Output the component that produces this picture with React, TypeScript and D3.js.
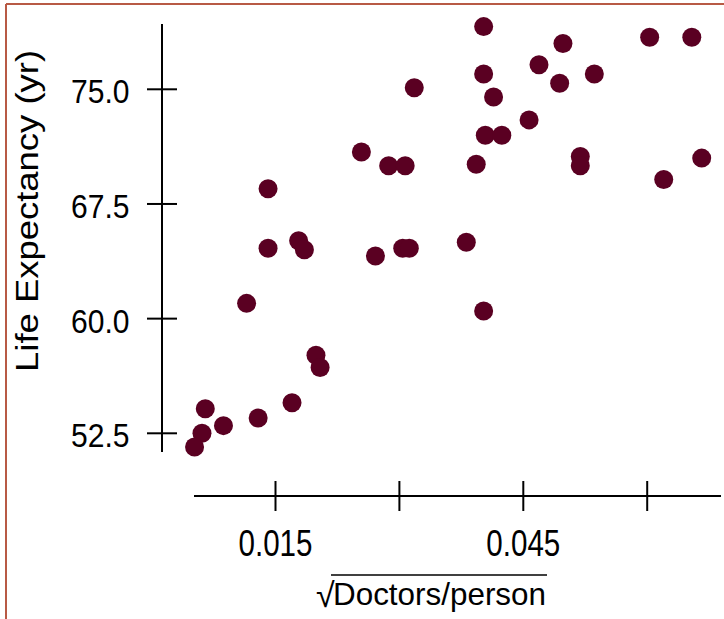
import React from 'react';
import * as d3 from 'd3';

// sqrt(doctors per person) for each country, and life expectancy in years
const sqrtDoctors = [
  0.0318, 0.0254, 0.0287, 0.0307, 0.0141, 0.0141, 0.0178, 0.0185, 0.0271, 0.0304,
  0.0312, 0.0115, 0.0199, 0.0204, 0.0170, 0.0129, 0.0065, 0.0087, 0.0061, 0.0052,
  0.0402, 0.0498, 0.0603, 0.0654, 0.0469, 0.0536, 0.0494, 0.0402, 0.0414, 0.0457,
  0.0404, 0.0424, 0.0393, 0.0519, 0.0519, 0.0620, 0.0666, 0.0381, 0.0402,
];
const lifeExpectancy = [
  75.1, 70.9, 70.0, 70.0, 68.5, 64.6, 65.1, 64.5, 64.1, 64.6,
  64.6, 61.0, 57.6, 56.8, 54.5, 53.5, 54.1, 53.0, 52.5, 51.6,
  79.1, 78.0, 78.4, 78.4, 76.6, 76.0, 75.4, 76.0, 74.5, 73.0,
  72.0, 72.0, 70.1, 70.6, 70.0, 69.1, 70.5, 65.0, 60.5,
];

const xTicks = [0.015, 0.03, 0.045, 0.06];
const xTickLabels = ['0.015', '', '0.045', ''];
const yTicks = [52.5, 60, 67.5, 75];

const W = 724;
const H = 619;
const FONT = '"Liberation Sans", Arial, Helvetica, sans-serif';
const DOT = '#5a0022';
const FRAME = '#b85a45';

export default function App() {
  const x = d3.scaleLinear().domain([0.015, 0.045]).range([275.5, 523.3]);
  const y = d3.scaleLinear().domain([52.5, 75]).range([433.3, 89.3]);
  const points = d3.zip(sqrtDoctors, lifeExpectancy);

  const xAxisY = 496;
  const yAxisX = 162;

  return (
    <svg width={W} height={H} style={{position: 'absolute', left: 0, top: 0, background: '#fff'}}>
      {/* frame */}
      <line x1={6} x2={W} y1={4} y2={4} stroke={FRAME} strokeWidth={2} />
      <line x1={6} x2={6} y1={4} y2={H} stroke={FRAME} strokeWidth={2} />

      {/* y axis */}
      <line x1={yAxisX} x2={yAxisX} y1={24} y2={452} stroke="#000" strokeWidth={2} />
      {yTicks.map((t) => (
        <g key={t}>
          <line x1={yAxisX - 15} x2={yAxisX + 15} y1={y(t)} y2={y(t)} stroke="#000" strokeWidth={2} />
          <text x={129.5} y={y(t) + 14} textAnchor="end" fontFamily={FONT} fontSize={34}
            textLength={58.5} lengthAdjust="spacingAndGlyphs">{t.toFixed(1)}</text>
        </g>
      ))}
      <text transform="translate(38,211) rotate(-90)" textAnchor="middle" fontFamily={FONT}
        fontSize={32} textLength={322} lengthAdjust="spacingAndGlyphs">Life Expectancy (yr)</text>

      {/* x axis */}
      <line x1={194} x2={721} y1={xAxisY} y2={xAxisY} stroke="#000" strokeWidth={2} />
      {xTicks.map((t, i) => (
        <g key={t}>
          <line x1={x(t)} x2={x(t)} y1={xAxisY - 15} y2={xAxisY + 15} stroke="#000" strokeWidth={2} />
          {xTickLabels[i] && (
            <text x={x(t)} y={556} textAnchor="middle" fontFamily={FONT} fontSize={36}
              textLength={74} lengthAdjust="spacingAndGlyphs">{xTickLabels[i]}</text>
          )}
        </g>
      ))}
      <text x={316} y={607} fontFamily={FONT} fontSize={34}>√</text>
      <line x1={331} x2={547} y1={575} y2={575} stroke="#000" strokeWidth={1.5} />
      <text x={333} y={605} fontFamily={FONT} fontSize={32} textLength={213}
        lengthAdjust="spacingAndGlyphs">Doctors/person</text>

      {/* points */}
      {points.map(([dx, ly], i) => (
        <circle key={i} cx={x(dx)} cy={y(ly)} r={9.5} fill={DOT} />
      ))}
    </svg>
  );
}
